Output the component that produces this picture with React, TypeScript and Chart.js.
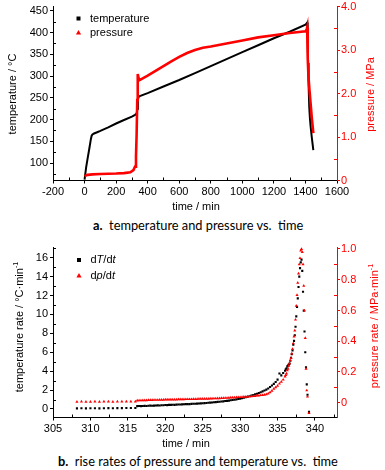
import React, { useEffect, useRef } from "react";
import { Chart, registerables } from "chart.js";
Chart.register(...registerables);

const FONT = '"Liberation Sans", Arial, sans-serif';
const RED = "#ff0000";
const BLACK = "#000000";

// ---------- chart a: temperature and pressure vs. time ----------
const TIME_TEMP = [0, 10, 20, 30, 40, 45, 50, 60, 80, 100, 150, 200, 250, 300, 320, 330, 335, 338, 342, 350, 400, 500, 600, 700, 800, 900, 1000, 1100, 1200, 1300, 1400, 1411, 1414, 1417, 1420, 1424, 1428, 1433, 1440, 1445, 1450];
const TEMPERATURE = [62, 90, 112, 133, 155, 163, 166, 168, 171, 174, 182, 191, 199, 207, 211, 214, 225, 245, 252, 254, 261, 276, 291, 307, 323, 339, 355, 371, 387, 402, 418, 423, 380, 330, 280, 230, 205, 184, 160, 145, 130];
const TIME_PRES = [0, 20, 50, 100, 150, 200, 250, 290, 310, 320, 326, 330, 334, 336, 338, 342, 350, 360, 380, 400, 450, 500, 550, 600, 650, 700, 750, 800, 900, 1000, 1100, 1200, 1300, 1400, 1408, 1411, 1413, 1416, 1419, 1425, 1432, 1440, 1445, 1450];
const PRESSURE = [0.10, 0.13, 0.14, 0.15, 0.155, 0.16, 0.17, 0.19, 0.24, 0.32, 0.55, 1.05, 1.85, 2.3, 2.45, 2.36, 2.31, 2.33, 2.37, 2.41, 2.52, 2.63, 2.74, 2.84, 2.93, 3.0, 3.05, 3.08, 3.15, 3.22, 3.29, 3.34, 3.39, 3.43, 3.47, 3.52, 3.2, 2.8, 2.4, 2.1, 1.8, 1.45, 1.27, 1.09];
const X_TICKS_A = [-200, 0, 200, 400, 600, 800, 1000, 1200, 1400, 1600];
const TEMP_TICKS = [100, 150, 200, 250, 300, 350, 400, 450];
const PRES_TICKS = [0, 1, 2, 3, 4];

// ---------- chart b: rise rates ----------
const TIME_RATE = [
  308.2, 308.8, 309.4, 310.0, 310.6, 311.2, 311.8, 312.4, 313.0, 313.6, 314.2, 314.8, 315.4, 316.0,
  316.25, 316.5, 316.75, 317, 317.25, 317.5, 317.75, 318, 318.25, 318.5, 318.75, 319, 319.25, 319.5, 319.75, 320,
  320.25, 320.5, 320.75, 321, 321.25, 321.5, 321.75, 322, 322.25, 322.5, 322.75, 323, 323.25, 323.5, 323.75, 324,
  324.25, 324.5, 324.75, 325, 325.25, 325.5, 325.75, 326, 326.25, 326.5, 326.75, 327, 327.25, 327.5, 327.75, 328,
  328.25, 328.5, 328.75, 329, 329.25, 329.5, 329.75, 330, 330.25, 330.5, 330.75, 331, 331.25, 331.5, 331.75, 332,
  332.25, 332.5, 332.75, 333, 333.25, 333.5, 333.75, 334, 334.25, 334.5, 334.75, 335, 335.25, 335.5, 335.75, 336,
  336.1, 336.2, 336.3, 336.4, 336.5, 336.6, 336.7, 336.8, 336.9, 337, 337.1, 337.2, 337.3, 337.4, 337.5, 337.6,
  337.7, 337.8, 337.9, 338, 338.1, 338.2, 338.3, 338.4, 338.5, 338.6, 338.7, 338.8, 338.9, 339, 339.2,
];
const DT_DT = [
  0.07, 0.08, 0.07, 0.08, 0.08, 0.07, 0.08, 0.09, 0.08, 0.09, 0.09, 0.10, 0.10, 0.11,
  0.30, 0.31, 0.30, 0.32, 0.33, 0.32, 0.34, 0.35, 0.34, 0.36, 0.37, 0.38, 0.37, 0.39, 0.40, 0.42,
  0.41, 0.43, 0.44, 0.45, 0.44, 0.46, 0.47, 0.48, 0.49, 0.50, 0.51, 0.52, 0.52, 0.54, 0.55, 0.56,
  0.57, 0.58, 0.60, 0.61, 0.62, 0.64, 0.66, 0.67, 0.69, 0.71, 0.73, 0.75, 0.77, 0.79, 0.81, 0.84,
  0.86, 0.89, 0.92, 0.95, 0.98, 1.02, 1.06, 1.10, 1.14, 1.19, 1.24, 1.29, 1.35, 1.41, 1.47, 1.54,
  1.61, 1.69, 1.77, 1.86, 1.95, 2.05, 2.17, 2.32, 2.48, 2.66, 2.86, 3.10, 3.75, 3.55, 3.80, 4.05,
  4.2, 4.3, 4.5, 4.6, 4.7, 4.8, 5.1, 5.4, 5.8, 6.2, 6.8, 7.2, 7.8, 8.7, 9.8, 10.8,
  11.7, 12.9, 14.0, 14.9, 15.5, 15.8, 14.6, 12.4, 10.4, 8.2, 6.0, 4.4, 2.6, 1.5, -0.3,
];
const DP_DT = [
  0.006, 0.007, 0.006, 0.006, 0.007, 0.006, 0.007, 0.007, 0.006, 0.007, 0.007, 0.008, 0.007, 0.008,
  0.014, 0.015, 0.015, 0.016, 0.016, 0.016, 0.017, 0.017, 0.017, 0.018, 0.018, 0.018, 0.019, 0.019, 0.019, 0.020,
  0.020, 0.020, 0.021, 0.021, 0.021, 0.021, 0.022, 0.022, 0.022, 0.022, 0.023, 0.023, 0.023, 0.023, 0.024, 0.024,
  0.024, 0.025, 0.025, 0.025, 0.026, 0.026, 0.026, 0.027, 0.027, 0.028, 0.028, 0.029, 0.029, 0.030, 0.030, 0.031,
  0.031, 0.032, 0.033, 0.033, 0.034, 0.035, 0.036, 0.036, 0.037, 0.038, 0.039, 0.040, 0.041, 0.042, 0.043, 0.044,
  0.046, 0.047, 0.049, 0.050, 0.052, 0.055, 0.060, 0.068, 0.078, 0.090, 0.100, 0.110, 0.124, 0.136, 0.150, 0.170,
  0.18, 0.19, 0.21, 0.22, 0.24, 0.256, 0.275, 0.29, 0.32, 0.35, 0.386, 0.43, 0.47, 0.54, 0.63, 0.70,
  0.78, 0.84, 0.90, 0.94, 0.99, 1.0, 0.98, 0.90, 0.76, 0.60, 0.42, 0.22, 0.08, 0.04, -0.067,
];
const X_TICKS_B = [305, 310, 315, 320, 325, 330, 335, 340];
const TRATE_TICKS = [0, 2, 4, 6, 8, 10, 12, 14, 16];
const PRATE_TICKS = [0, 0.2, 0.4, 0.6, 0.8, 1.0];

// ---------- helpers ----------
const pts = (xs: number[], ys: number[]) => xs.map((x, i) => ({ x, y: ys[i] }));

type Seg = { t: string; i?: boolean; sup?: boolean };
type TextItem = { segs: Seg[]; x: number; y: number; color: string; rotate?: boolean; align?: "left" | "center" };
type LegendItem = { marker: "rect" | "triangle"; color: string; x: number; y: number; tx: number; segs: Seg[] };
type MinorSpec = { axis: string; side: "bottom" | "left" | "right"; color: string };
type DecorSpec = { size: number; texts: TextItem[]; legend: LegendItem[]; minor: MinorSpec[] };

const fontOf = (size: number, italic?: boolean) => `${italic ? "italic " : ""}${size}px ${FONT}`;

function drawRich(ctx: CanvasRenderingContext2D, item: TextItem, size: number) {
  ctx.save();
  ctx.translate(item.x, item.y);
  if (item.rotate) ctx.rotate(-Math.PI / 2);
  ctx.fillStyle = item.color;
  ctx.textBaseline = "middle";
  ctx.textAlign = "left";
  const widths = item.segs.map((s) => {
    ctx.font = fontOf(s.sup ? size * 0.65 : size, s.i);
    return ctx.measureText(s.t).width;
  });
  const total = widths.reduce((a, b) => a + b, 0);
  let cx = item.align === "left" ? 0 : -total / 2;
  item.segs.forEach((s, k) => {
    ctx.font = fontOf(s.sup ? size * 0.65 : size, s.i);
    ctx.fillText(s.t, cx, s.sup ? -size * 0.4 : 0);
    cx += widths[k];
  });
  ctx.restore();
}

function makeDecor(spec: DecorSpec) {
  return {
    id: "decor",
    afterDraw(chart: any) {
      const ctx: CanvasRenderingContext2D = chart.ctx;
      // minor ticks (midpoints between major ticks), drawn inward
      spec.minor.forEach((m) => {
        const sc = chart.scales[m.axis];
        const vals = sc.ticks.map((t: any) => t.value);
        if (vals.length < 2) return;
        const step = vals[1] - vals[0];
        const mids: number[] = [];
        mids.push(vals[0] - step / 2);
        for (let k = 0; k < vals.length; k++) mids.push(vals[k] + step / 2);
        ctx.save();
        ctx.strokeStyle = m.color;
        ctx.lineWidth = 1;
        ctx.beginPath();
        mids.forEach((v) => {
          if (v < sc.min || v > sc.max) return;
          const p = Math.round(sc.getPixelForValue(v)) + 0.5;
          if (m.side === "bottom") {
            ctx.moveTo(p, sc.top);
            ctx.lineTo(p, sc.top - 3);
          } else if (m.side === "left") {
            ctx.moveTo(sc.right, p);
            ctx.lineTo(sc.right + 3, p);
          } else {
            ctx.moveTo(sc.left, p);
            ctx.lineTo(sc.left - 3, p);
          }
        });
        ctx.stroke();
        ctx.restore();
      });
      spec.texts.forEach((t) => drawRich(ctx, t, spec.size));
      spec.legend.forEach((l) => {
        ctx.save();
        ctx.fillStyle = l.color;
        if (l.marker === "rect") {
          ctx.fillRect(l.x - 2, l.y - 2, 4, 4);
        } else {
          ctx.beginPath();
          ctx.moveTo(l.x, l.y - 2.6);
          ctx.lineTo(l.x + 2.6, l.y + 2);
          ctx.lineTo(l.x - 2.6, l.y + 2);
          ctx.closePath();
          ctx.fill();
        }
        ctx.restore();
        drawRich(ctx, { segs: l.segs, x: l.tx, y: l.y, color: BLACK, align: "left" }, spec.size);
      });
    },
  };
}

const axisStyle = (color: string) => ({
  border: { display: true, color, width: 1 },
  grid: { display: true, drawOnChartArea: false, drawTicks: true, tickLength: 3, tickColor: color, tickWidth: 1 },
  ticks: { color, font: { family: FONT, size: 11 }, padding: 2, autoSkip: false, maxRotation: 0 },
});

const setTicks = (list: number[]) => (s: any) => {
  s.ticks = list.map((v) => ({ value: v }));
};
const fitW = (w: number) => (s: any) => {
  s.width = w;
  s.paddingTop = 0;
  s.paddingBottom = 0;
};
const fitH = (h: number) => (s: any) => {
  s.height = h;
  s.paddingLeft = 0;
  s.paddingRight = 0;
};

function configA(): any {
  return {
    type: "scatter",
    data: {
      datasets: [
        {
          label: "pressure",
          data: pts(TIME_PRES, PRESSURE),
          yAxisID: "y1",
          showLine: true,
          borderColor: RED,
          borderWidth: 2.6,
          pointRadius: 0,
          order: 0,
        },
        {
          label: "temperature",
          data: pts(TIME_TEMP, TEMPERATURE),
          yAxisID: "y",
          showLine: true,
          borderColor: BLACK,
          borderWidth: 2,
          pointRadius: 0,
          order: 1,
        },
      ],
    },
    options: {
      animation: false,
      responsive: false,
      layout: { padding: { top: 6.5, left: 0, right: 0, bottom: 0 } },
      plugins: { legend: { display: false }, tooltip: { enabled: false } },
      scales: {
        x: {
          type: "linear",
          position: "bottom",
          min: -200,
          max: 1600,
          ...axisStyle(BLACK),
          ticks: { ...axisStyle(BLACK).ticks, callback: (v: number) => String(v) },
          afterBuildTicks: setTicks(X_TICKS_A),
          afterFit: fitH(34.5),
        },
        y: {
          type: "linear",
          position: "left",
          min: 60,
          max: 460,
          ...axisStyle(BLACK),
          ticks: { ...axisStyle(BLACK).ticks, callback: (v: number) => String(v) },
          afterBuildTicks: setTicks(TEMP_TICKS),
          afterFit: fitW(53),
        },
        y1: {
          type: "linear",
          position: "right",
          min: 0,
          max: 4,
          ...axisStyle(RED),
          ticks: { ...axisStyle(RED).ticks, padding: 1, callback: (v: number) => (v === 0 ? "0" : v.toFixed(1)) },
          afterBuildTicks: setTicks(PRES_TICKS),
          afterFit: fitW(48),
        },
      },
    },
    plugins: [
      makeDecor({
        size: 11,
        texts: [
          { segs: [{ t: "time / min" }], x: 196, y: 207, color: BLACK },
          { segs: [{ t: "temperature / °C" }], x: 13, y: 94, color: BLACK, rotate: true },
          { segs: [{ t: "pressure / MPa" }], x: 371, y: 94.5, color: RED, rotate: true },
        ],
        legend: [
          { marker: "rect", color: BLACK, x: 78.5, y: 18.5, tx: 90, segs: [{ t: "temperature" }] },
          { marker: "triangle", color: RED, x: 78.5, y: 32.5, tx: 90, segs: [{ t: "pressure" }] },
        ],
        minor: [
          { axis: "x", side: "bottom", color: BLACK },
          { axis: "y", side: "left", color: BLACK },
          { axis: "y1", side: "right", color: RED },
        ],
      }),
    ],
  };
}

function configB(): any {
  return {
    type: "scatter",
    data: {
      datasets: [
        {
          label: "dp/dt",
          data: pts(TIME_RATE, DP_DT),
          yAxisID: "y1",
          pointStyle: "triangle",
          pointRadius: 1.8,
          pointBorderWidth: 0,
          backgroundColor: RED,
          borderColor: RED,
          order: 0,
        },
        {
          label: "dT/dt",
          data: pts(TIME_RATE, DT_DT),
          yAxisID: "y",
          pointStyle: "rect",
          pointRadius: 1.5,
          pointBorderWidth: 0,
          backgroundColor: BLACK,
          borderColor: BLACK,
          order: 1,
        },
      ],
    },
    options: {
      animation: false,
      responsive: false,
      layout: { padding: { top: 12, left: 0, right: 0, bottom: 0 } },
      plugins: { legend: { display: false }, tooltip: { enabled: false } },
      scales: {
        x: {
          type: "linear",
          position: "bottom",
          min: 305,
          max: 342.94,
          ...axisStyle(BLACK),
          ticks: { ...axisStyle(BLACK).ticks, callback: (v: number) => String(v) },
          afterBuildTicks: setTicks(X_TICKS_B),
          afterFit: fitH(32.5),
        },
        y: {
          type: "linear",
          position: "left",
          min: -0.9,
          max: 17.13,
          ...axisStyle(BLACK),
          ticks: { ...axisStyle(BLACK).ticks, callback: (v: number) => String(v) },
          afterBuildTicks: setTicks(TRATE_TICKS),
          afterFit: fitW(53),
        },
        y1: {
          type: "linear",
          position: "right",
          min: -0.096,
          max: 1.013,
          ...axisStyle(RED),
          ticks: { ...axisStyle(RED).ticks, padding: 1, callback: (v: number) => (v === 0 ? "0" : v.toFixed(1)) },
          afterBuildTicks: setTicks(PRATE_TICKS),
          afterFit: fitW(48),
        },
      },
    },
    plugins: [
      makeDecor({
        size: 11,
        texts: [
          { segs: [{ t: "time / min" }], x: 186, y: 209, color: BLACK },
          { segs: [{ t: "temperature rate / °C·min" }, { t: "-1", sup: true }], x: 20, y: 92, color: BLACK, rotate: true },
          { segs: [{ t: "pressure rate / MPa·min" }, { t: "-1", sup: true }], x: 375, y: 91, color: RED, rotate: true },
        ],
        legend: [
          { marker: "rect", color: BLACK, x: 79, y: 25, tx: 90.5, segs: [{ t: "d" }, { t: "T", i: true }, { t: "/d" }, { t: "t", i: true }] },
          { marker: "triangle", color: RED, x: 79, y: 40.5, tx: 90.5, segs: [{ t: "d" }, { t: "p", i: true }, { t: "/d" }, { t: "t", i: true }] },
        ],
        minor: [
          { axis: "x", side: "bottom", color: BLACK },
          { axis: "y", side: "left", color: BLACK },
          { axis: "y1", side: "right", color: RED },
        ],
      }),
    ],
  };
}

function ChartCanvas({ build, top, height }: { build: () => any; top: number; height: number }) {
  const ref = useRef<HTMLCanvasElement>(null);
  useEffect(() => {
    const chart = new Chart(ref.current as HTMLCanvasElement, build());
    return () => chart.destroy();
  }, []);
  return (
    <canvas
      ref={ref}
      width={385}
      height={height}
      style={{ position: "absolute", left: 0, top, width: 385, height, display: "block" }}
    />
  );
}

const captionStyle: React.CSSProperties = {
  position: "absolute",
  whiteSpace: "pre",
  font: '12.8px Lato, "Open Sans", sans-serif',
  lineHeight: "16px",
  color: "#000",
};

export default function App() {
  return (
    <div style={{ position: "absolute", left: 0, top: 0, width: 385, height: 470, background: "#fff", overflow: "hidden" }}>
      <ChartCanvas build={configA} top={0} height={215} />
      <div style={{ ...captionStyle, left: 93, top: 217 }}>
        <b>a.</b>{"  temperature and pressure vs.  time"}
      </div>
      <ChartCanvas build={configB} top={235} height={215} />
      <div style={{ ...captionStyle, left: 58, top: 452.5 }}>
        <b>b.</b>{"  rise rates of pressure and temperature vs.  time"}
      </div>
    </div>
  );
}
